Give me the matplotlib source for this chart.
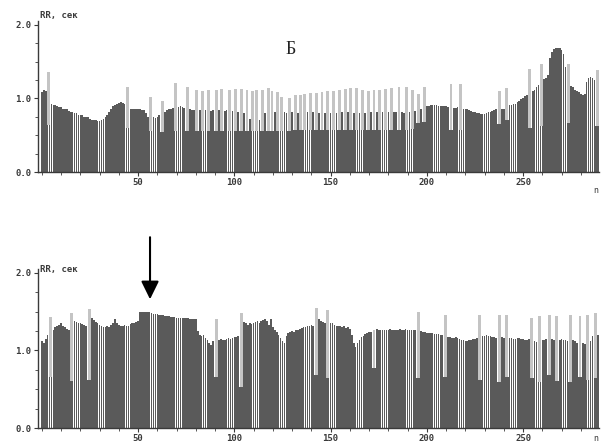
import numpy as np
import matplotlib.pyplot as plt
from matplotlib.ticker import MultipleLocator

# RR intervals (s) for each beat
top_rr = [
    1.08, 1.12, 1.10, 0.64, 1.36, 0.93, 0.91, 0.91, 0.89, 0.88,
    0.88, 0.86, 0.85, 0.85, 0.83, 0.82, 0.81, 0.80, 0.80, 0.78,
    0.77, 0.77, 0.75, 0.74, 0.74, 0.72, 0.71, 0.71, 0.70, 0.69,
    0.69, 0.70, 0.72, 0.75, 0.78, 0.82, 0.86, 0.89, 0.91, 0.93,
    0.94, 0.95, 0.94, 0.92, 0.60, 1.16, 0.85, 0.85, 0.86, 0.86,
    0.85, 0.85, 0.84, 0.84, 0.80, 0.75, 0.55, 1.02, 0.74, 0.73,
    0.74, 0.78, 0.54, 0.96, 0.82, 0.84, 0.85, 0.86, 0.87, 0.56,
    1.21, 0.88, 0.89, 0.88, 0.87, 0.56, 1.16, 0.85, 0.84, 0.84,
    0.56, 1.12, 0.84, 0.55, 1.10, 0.84, 0.56, 1.11, 0.83, 0.84,
    0.55, 1.12, 0.84, 0.56, 1.13, 0.83, 0.84, 0.55, 1.12, 0.83,
    0.56, 1.13, 0.82, 0.56, 1.13, 0.80, 0.55, 1.12, 0.72, 0.56,
    1.10, 0.56, 1.11, 0.71, 0.56, 1.12, 0.80, 0.56, 1.14, 0.56,
    1.10, 0.82, 0.56, 1.08, 0.56, 1.02, 0.82, 0.80, 0.56, 1.00,
    0.82, 0.57, 1.05, 0.80, 0.57, 1.05, 0.57, 1.06, 0.81, 0.57,
    1.07, 0.81, 0.57, 1.07, 0.80, 0.57, 1.08, 0.80, 0.57, 1.10,
    0.80, 0.57, 1.10, 0.80, 0.57, 1.12, 0.81, 0.57, 1.13, 0.81,
    0.57, 1.14, 0.80, 0.57, 1.14, 0.80, 0.57, 1.12, 0.80, 0.57,
    1.10, 0.81, 0.57, 1.11, 0.81, 0.57, 1.12, 0.82, 0.57, 1.13,
    0.81, 0.57, 1.14, 0.82, 0.81, 0.57, 1.16, 0.81, 0.80, 0.57,
    1.15, 0.82, 0.58, 1.12, 0.83, 0.66, 1.06, 0.85, 0.68, 1.15,
    0.89, 0.90, 0.91, 0.91, 0.91, 0.91, 0.90, 0.90, 0.90, 0.89,
    0.89, 0.88, 0.57, 1.19, 0.87, 0.87, 0.88, 0.57, 1.19, 0.86,
    0.85, 0.85, 0.84, 0.83, 0.82, 0.81, 0.80, 0.80, 0.79, 0.79,
    0.79, 0.80, 0.81, 0.82, 0.83, 0.84, 0.85, 0.65, 1.10, 0.85,
    0.86, 0.71, 1.14, 0.91, 0.91, 0.92, 0.93, 0.95, 0.97, 0.99,
    1.01, 1.03, 1.05, 0.60, 1.40, 1.10, 1.12, 1.15, 1.18, 0.63,
    1.46, 1.26, 1.28, 1.32, 1.55, 1.63, 1.67, 1.69, 1.69, 1.68,
    1.66, 1.60, 1.42, 0.67, 1.46, 1.17, 1.15, 1.12, 1.10, 1.08,
    1.06, 1.05, 1.06, 1.22, 1.27, 1.29, 1.27, 1.25, 0.62, 1.39,
]

bottom_rr = [
    1.12, 1.10, 1.15, 1.20, 0.66, 1.43, 1.27, 1.30, 1.31, 1.33,
    1.35, 1.32, 1.30, 1.28, 1.27, 0.60, 1.48, 1.38, 1.37, 1.36,
    1.35, 1.34, 1.33, 1.31, 0.62, 1.53, 1.42, 1.39, 1.37, 1.35,
    1.33, 1.31, 1.30, 1.30, 1.31, 1.30, 1.33, 1.36, 1.41, 1.36,
    1.33, 1.32, 1.32, 1.33, 1.32, 1.32, 1.34, 1.35, 1.36, 1.37,
    1.38, 1.49, 1.50, 1.50, 1.50, 1.49, 1.49, 1.48, 1.47, 1.47,
    1.47, 1.46, 1.46, 1.46, 1.45, 1.45, 1.44, 1.43, 1.43, 1.43,
    1.42, 1.42, 1.42, 1.42, 1.42, 1.42, 1.42, 1.41, 1.41, 1.41,
    1.40, 1.25, 1.20, 1.18, 1.20, 1.16, 1.13, 1.10, 1.07, 1.12,
    0.66, 1.40, 1.14, 1.15, 1.13, 1.14, 1.15, 1.16, 1.15, 1.16,
    1.17, 1.17, 1.18, 0.53, 1.48, 1.37, 1.35, 1.33, 1.36, 1.34,
    1.35, 1.37, 1.38, 1.36, 1.38, 1.39, 1.40, 1.38, 1.33, 1.41,
    1.30, 1.27, 1.24, 1.20, 1.16, 1.12, 1.10, 1.18, 1.22, 1.24,
    1.25, 1.24, 1.26, 1.27, 1.28, 1.29, 1.30, 1.30, 1.31, 1.32,
    1.33, 1.32, 0.68, 1.55, 1.40, 1.38, 1.37, 1.36, 0.64, 1.52,
    1.36, 1.35, 1.33, 1.32, 1.32, 1.31, 1.30, 1.31, 1.29, 1.30,
    1.28, 1.20, 1.10, 1.05, 1.10, 1.14, 1.17, 1.19, 1.21, 1.23,
    1.24, 1.24, 0.77, 1.27, 1.28, 1.27, 1.26, 1.27, 1.27, 1.26,
    1.27, 1.28, 1.27, 1.26, 1.27, 1.27, 1.28, 1.27, 1.27, 1.28,
    1.27, 1.26, 1.27, 1.26, 1.26, 0.64, 1.50, 1.25, 1.24, 1.24,
    1.23, 1.23, 1.22, 1.22, 1.21, 1.21, 1.21, 1.20, 1.20, 0.66,
    1.46, 1.17, 1.17, 1.16, 1.16, 1.17, 1.16, 1.15, 1.14, 1.13,
    1.12, 1.12, 1.13, 1.14, 1.15, 1.15, 1.16, 0.62, 1.46, 1.18,
    1.19, 1.20, 1.19, 1.18, 1.17, 1.17, 1.16, 0.59, 1.46, 1.17,
    1.16, 0.66, 1.46, 1.16, 1.16, 1.15, 1.15, 1.16, 1.16, 1.15,
    1.15, 1.14, 1.14, 1.15, 0.64, 1.42, 1.12, 1.11, 0.59, 1.44,
    1.13, 1.14, 1.15, 0.68, 1.46, 1.15, 1.14, 0.61, 1.44, 1.14,
    1.15, 1.14, 1.13, 1.12, 0.59, 1.46, 1.13, 1.12, 1.10, 0.66,
    1.44, 1.10, 1.08, 0.62, 1.46, 1.12, 1.18, 0.64, 1.48, 1.20,
]

x_ticks = [50, 100, 150, 200, 250]
y_ticks = [0.0, 1.0, 2.0]
y_labels = ['0.0', '1.0', '2.0']
axis_label = 'RR, сек'

dark = '#5a5a5a'
light = '#c4c4c4'
ink = '#3a3a3a'

plt.rcParams['font.family'] = ['DejaVu Sans Mono']

fig = plt.figure(figsize=(6.01, 4.44), dpi=100)
ax_top = fig.add_axes([0.0632, 0.6126, 0.9334, 0.3401])
ax_bot = fig.add_axes([0.0632, 0.036, 0.9334, 0.3581])


def rhythmogram(ax, rr, label_y, n_y):
    rr = np.asarray(rr)
    n = np.arange(len(rr))
    prev = np.r_[rr[0], rr[:-1]]
    jump = rr - prev > 0.25          # long pause after an ectopic beat
    base = np.where(jump, prev, rr)
    ax.bar(n, base, width=0.85, color=dark, linewidth=0)
    ax.bar(n[jump] - 0.45, (rr - prev)[jump], bottom=prev[jump],
           width=1.5, color=light, linewidth=0)

    ax.set_xlim(-2, 289.4)
    ax.set_ylim(0, 2.05)
    for s in ['top', 'right']:
        ax.spines[s].set_visible(False)
    for s in ['left', 'bottom']:
        ax.spines[s].set_color(ink)
        ax.spines[s].set_linewidth(1)
    ax.set_xticks(x_ticks)
    ax.xaxis.set_minor_locator(MultipleLocator(10))
    ax.set_yticks(y_ticks)
    ax.set_yticklabels(y_labels)
    ax.yaxis.set_minor_locator(MultipleLocator(0.25))
    ax.tick_params(which='both', direction='out', color=ink, labelcolor=ink,
                   labelsize=6.5, pad=1.5)
    ax.tick_params(which='major', length=3)
    ax.tick_params(which='minor', length=2)
    for lab in ax.get_xticklabels() + ax.get_yticklabels():
        lab.set_fontweight('bold')
    ax.text(-1.0, label_y, axis_label, fontsize=6.5, fontweight='bold',
            color=ink, va='center', ha='left', clip_on=False)
    ax.text(0.99, n_y, 'n', transform=ax.transAxes, fontsize=6,
            color=ink, ha='left', va='center', clip_on=False)


rhythmogram(ax_top, top_rr, 2.12, -0.12)
rhythmogram(ax_bot, bottom_rr, 2.04, -0.065)

ax_top.text(129, 1.66, 'Б', family=['Liberation Serif', 'DejaVu Serif'],
            fontsize=13, ha='center', va='center', color='#222222')

ax_bot.annotate('', xy=(56.2, 1.66), xytext=(56.2, 2.46),
                arrowprops=dict(arrowstyle='-|>,head_length=0.55,head_width=0.27',
                                lw=1.5, color='black', mutation_scale=20,
                                shrinkA=0, shrinkB=0),
                annotation_clip=False)

fig.savefig('out.png', dpi=100)
